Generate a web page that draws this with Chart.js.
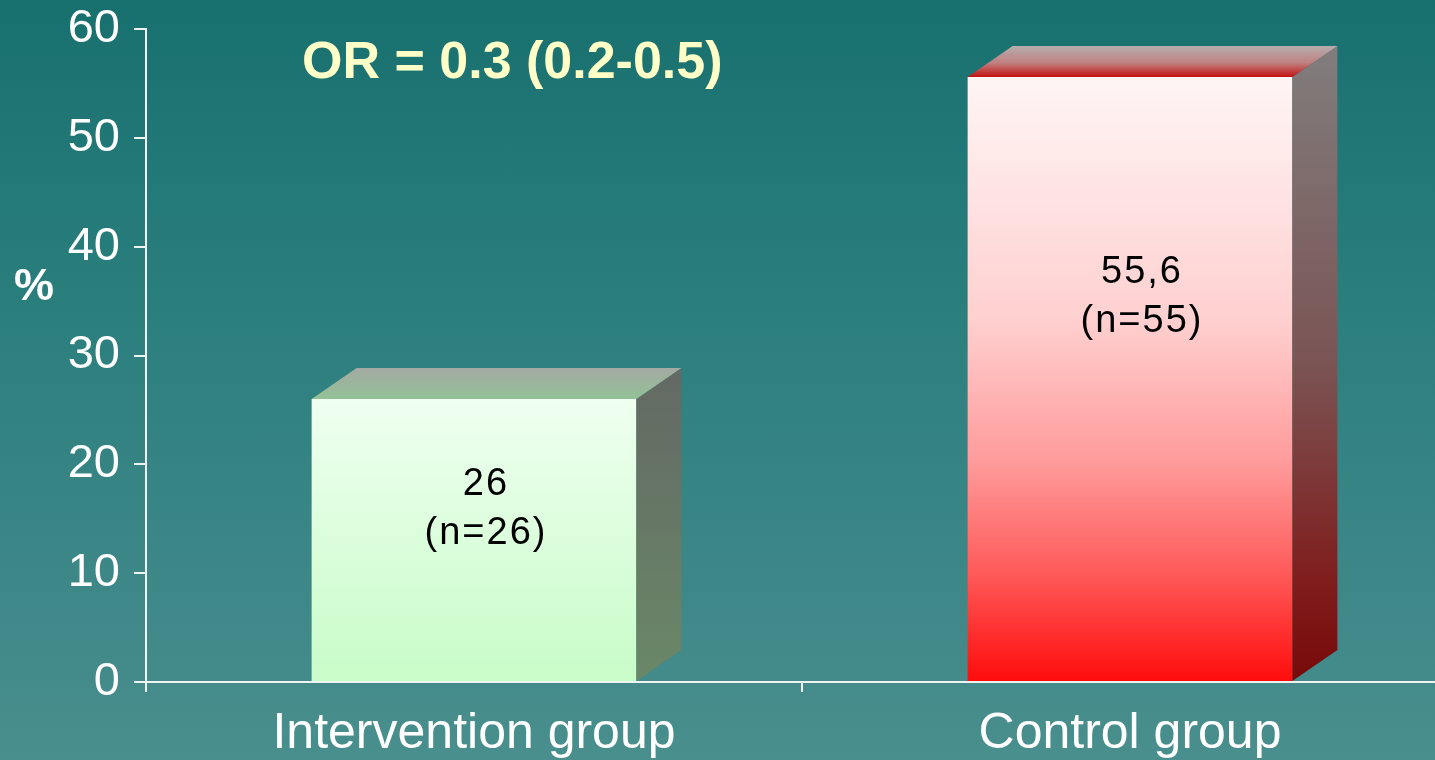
<!DOCTYPE html>
<html>
<head>
<meta charset="utf-8">
<title>Intervention vs control</title>
<script src="https://cdn.jsdelivr.net/npm/chart.js@4/dist/chart.umd.min.js"></script>
<style>
  html, body {
    margin: 0;
    padding: 0;
    width: 1435px;
    height: 760px;
    overflow: hidden;
    background: linear-gradient(to bottom, #18706e 0%, #2a7f7d 40%, #42898a 85%, #498f8d 100%);
  }
  #wrap {
    position: absolute;
    left: 0;
    top: 0;
    width: 1460px;
    height: 760px;
  }
</style>
</head>
<body>
<div id="wrap"><canvas id="chart"></canvas></div>
<script>
// Chart data
const categories = ['Intervention group', 'Control group'];
const percentValues = [26, 55.6];
const patientCounts = [26, 55];
const yTickValues = [0, 10, 20, 30, 40, 50, 60];
const oddsRatioText = 'OR = 0.3 (0.2-0.5)';
const axisUnit = '%';

const FONT = '"Liberation Sans", Arial, Helvetica, sans-serif';
const AXIS_COLOR = '#eef4f2';

// Face colours for each bar: front (top→bottom), side (top→bottom), lid (back→front)
const facePalettes = [
  {
    front: [[0, '#effff0'], [1, '#c8fcc8']],
    side: [[0, '#636963'], [1, '#6a8868']],
    lid: [[0, '#a4aaa3'], [1, '#92c196']]
  },
  {
    front: [[0, '#fff5f5'], [0.4, '#ffd0d0'], [0.64, '#ff9a9a'], [0.82, '#ff5a5a'], [1, '#ff0c0c']],
    side: [[0, '#817d7d'], [0.5, '#7b5454'], [0.85, '#801c1c'], [1, '#780909']],
    lid: [[0, '#b6aeae'], [0.55, '#c08080'], [1, '#c41212']]
  }
];

function vGradient(ctx, y0, y1, stops) {
  const g = ctx.createLinearGradient(0, y0, 0, y1);
  stops.forEach(([o, c]) => g.addColorStop(o, c));
  return g;
}

// Draws the side and lid of each bar so the columns read as boxes
const boxFaces = {
  id: 'boxFaces',
  afterDatasetsDraw(chart, args, opts) {
    const ctx = chart.ctx;
    const meta = chart.getDatasetMeta(0);
    const dx = opts.depthX, dy = opts.depthY;
    ctx.save();
    meta.data.forEach((bar, i) => {
      const { x, y, base, width } = bar.getProps(['x', 'y', 'base', 'width'], true);
      const l = x - width / 2, r = x + width / 2;
      const pal = facePalettes[i];
      // side face
      ctx.beginPath();
      ctx.moveTo(r, y);
      ctx.lineTo(r + dx, y - dy);
      ctx.lineTo(r + dx, base - dy);
      ctx.lineTo(r, base);
      ctx.closePath();
      ctx.fillStyle = vGradient(ctx, y - dy, base, pal.side);
      ctx.fill();
      // lid
      ctx.beginPath();
      ctx.moveTo(l, y);
      ctx.lineTo(l + dx, y - dy);
      ctx.lineTo(r + dx, y - dy);
      ctx.lineTo(r, y);
      ctx.closePath();
      ctx.fillStyle = vGradient(ctx, y - dy, y, pal.lid);
      ctx.fill();
    });
    ctx.restore();
  }
};

// Value labels inside the bars, the odds ratio note and the unit label
const annotations = {
  id: 'annotations',
  afterDraw(chart) {
    const ctx = chart.ctx;
    const yScale = chart.scales.y;
    const meta = chart.getDatasetMeta(0);
    ctx.save();
    ctx.fillStyle = '#000000';
    ctx.font = '38px ' + FONT;
    ctx.textAlign = 'center';
    ctx.textBaseline = 'alphabetic';
    if ('letterSpacing' in ctx) ctx.letterSpacing = '2px';
    meta.data.forEach((bar, i) => {
      const v = percentValues[i];
      const cx = bar.x + 12;
      const y1 = yScale.getPixelForValue(v * 0.66);
      ctx.fillText(String(v).replace('.', ','), cx, y1);
      ctx.fillText('(n=' + patientCounts[i] + ')', cx, y1 + 49);
    });
    if ('letterSpacing' in ctx) ctx.letterSpacing = '0px';

    ctx.fillStyle = '#ffffc8';
    ctx.font = 'bold 52px ' + FONT;
    ctx.textAlign = 'left';
    ctx.fillText(oddsRatioText, 302, 78);

    ctx.fillStyle = '#ffffff';
    ctx.font = 'bold 45px ' + FONT;
    ctx.textAlign = 'center';
    ctx.fillText(axisUnit, 34, 300);
    ctx.restore();
  }
};

new Chart(document.getElementById('chart'), {
  type: 'bar',
  data: {
    labels: categories,
    datasets: [{
      data: percentValues,
      borderWidth: 0,
      backgroundColor: (c) => {
        const chart = c.chart;
        if (!chart.chartArea) return '#ffffff';
        const ys = chart.scales.y;
        const top = ys.getPixelForValue(percentValues[c.dataIndex]);
        const bottom = ys.getPixelForValue(0);
        return vGradient(chart.ctx, top, bottom, facePalettes[c.dataIndex].front);
      },
      categoryPercentage: 1,
      barPercentage: 0.495
    }]
  },
  plugins: [boxFaces, annotations],
  options: {
    responsive: true,
    maintainAspectRatio: false,
    animation: false,
    layout: { padding: { top: 29, right: 2, left: 0, bottom: 0 } },
    plugins: {
      legend: { display: false },
      tooltip: { enabled: false },
      boxFaces: { depthX: 45, depthY: 31 }
    },
    scales: {
      x: {
        offset: true,
        afterFit: (s) => { s.height = 78; },
        border: { display: true, color: AXIS_COLOR, width: 2 },
        grid: {
          offset: true,
          drawOnChartArea: false,
          drawTicks: true,
          tickLength: 10,
          color: AXIS_COLOR,
          lineWidth: 2
        },
        ticks: {
          color: '#ffffff',
          padding: 12,
          font: { family: FONT, size: 50 }
        }
      },
      y: {
        min: 0,
        max: 60,
        afterFit: (s) => {
          s.width = 146;
          s.paddingTop = 0;
          s.paddingBottom = 0;
        },
        afterBuildTicks: (s) => { s.ticks = yTickValues.map(v => ({ value: v })); },
        border: { display: true, color: AXIS_COLOR, width: 2 },
        grid: {
          drawOnChartArea: false,
          drawTicks: true,
          tickLength: 12,
          color: AXIS_COLOR,
          lineWidth: 2
        },
        ticks: {
          color: '#ffffff',
          padding: 14,
          font: { family: FONT, size: 47, lineHeight: 0.8 }
        }
      }
    }
  }
});
</script>
</body>
</html>
